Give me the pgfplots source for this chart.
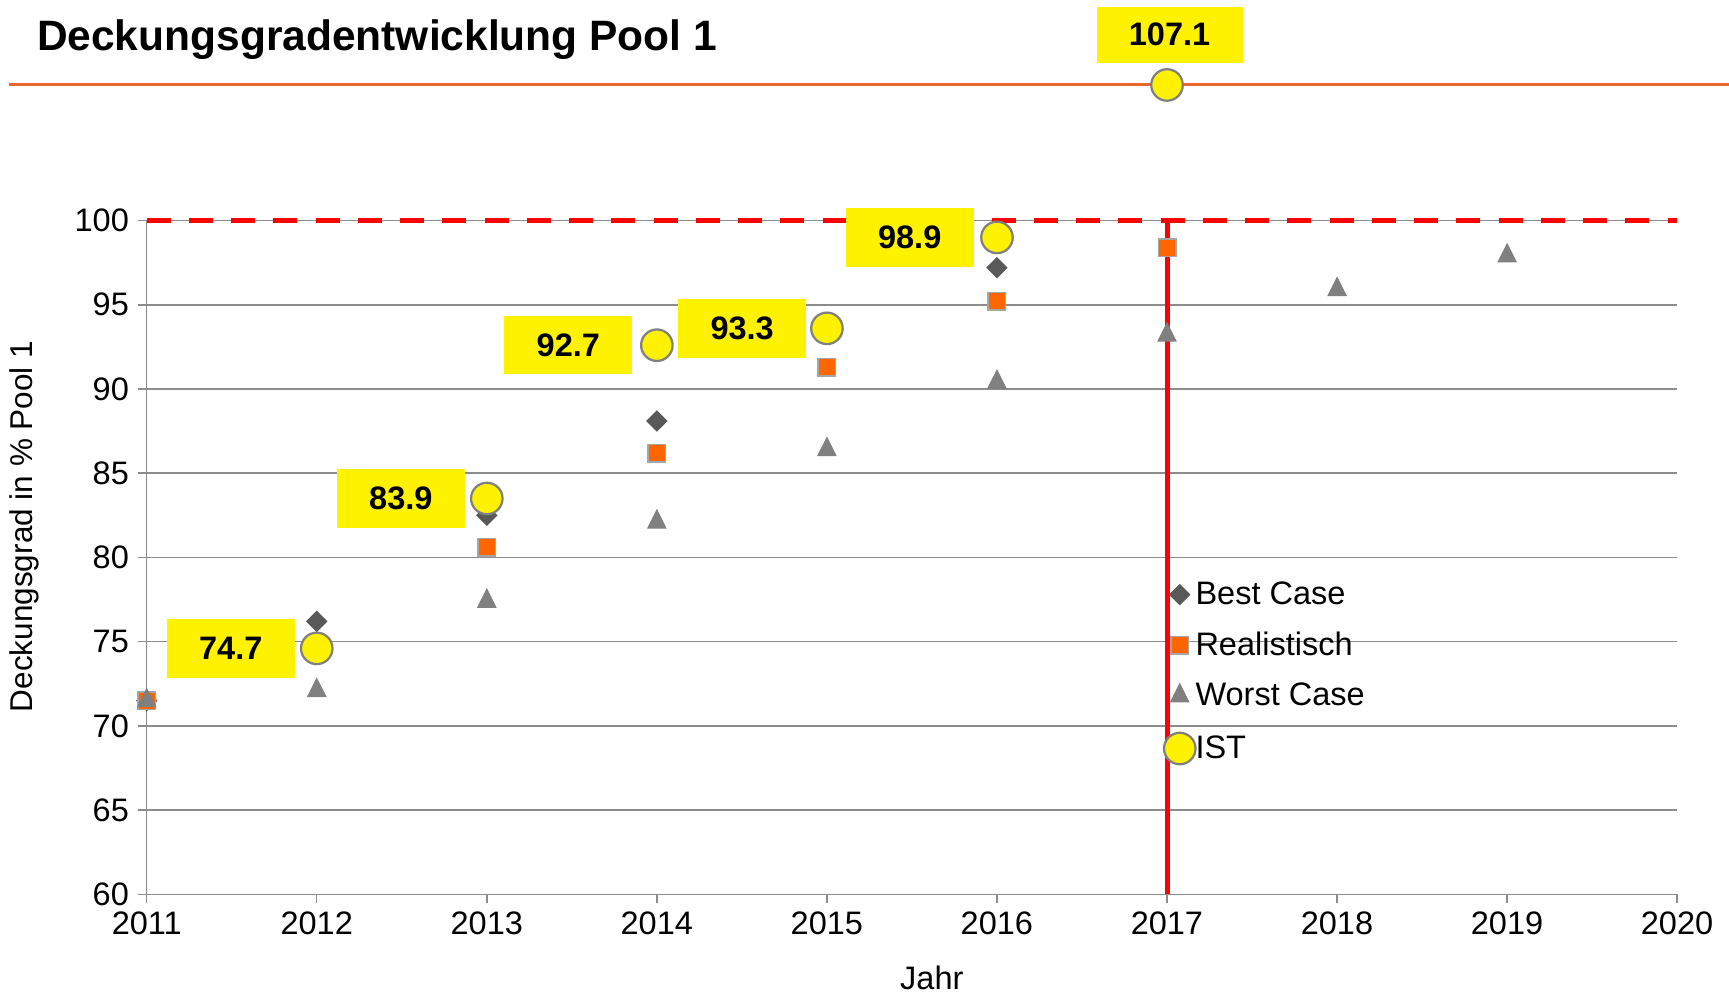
\documentclass[border=0pt]{standalone}
\usepackage{pgfplots}
\pgfplotsset{compat=1.18}
\usepackage{fontspec}
\setmainfont{Liberation Sans}
\definecolor{gridgray}{HTML}{8C8C8C}
\definecolor{headorange}{RGB}{235,105,40}
\definecolor{bestc}{HTML}{595959}
\definecolor{realc}{HTML}{FF6600}
\definecolor{realb}{HTML}{A6A6A6}
\definecolor{worstc}{HTML}{808080}
\definecolor{istb}{HTML}{808080}
\begin{document}
\begin{tikzpicture}
\path[use as bounding box] (0,0) rectangle (691.6pt,397.2pt);
\draw[headorange, line width=1.2pt] (3.5pt,363.2pt) -- (691.6pt,363.2pt);
\node[anchor=base west, font=\fontsize{17}{19}\selectfont\bfseries, inner sep=0pt] at (14.6pt,376.9pt) {Deckungsgradentwicklung Pool 1};
\begin{axis}[
  at={(58.68pt,39.48pt)}, anchor=south west,
  scale only axis, width=612.2pt, height=269.5pt,
  xmin=2011, xmax=2020, ymin=60, ymax=100,
  xtick={2011,2012,...,2020}, ytick={60,65,...,100},
  axis lines=left, axis line style={-, gridgray, line width=0.6pt},
  ymajorgrids, grid style={gridgray, line width=0.6pt},
  tick style={gridgray, line width=0.6pt}, tick align=outside, major tick length=3.6pt,
  clip=false,
  /pgf/number format/assume math mode=true,
  /pgf/number format/1000 sep={},
  ticklabel style={font=\fontsize{13}{15}\selectfont},
  xlabel={Jahr}, ylabel={Deckungsgrad in \% Pool 1},
  every axis x label/.style={at={(axis description cs:0.513,-0.124)}, anchor=center, font=\fontsize{13}{15}\selectfont},
  every axis y label/.style={at={(axis description cs:-0.08,0.546)}, rotate=90, anchor=center, font=\fontsize{12.6}{15}\selectfont},
  legend style={at={(0.6647,0.4645)}, anchor=north west, draw=none, fill=none,
    inner sep=0pt, outer sep=0pt, font=\fontsize{13}{15}\selectfont, row sep=9.5pt,
    nodes={inner sep=0pt}},
  legend cell align=left,
  legend image code/.code={\draw[#1] plot[only marks] coordinates {(0pt,0pt)};},
]
\addplot[only marks, mark=square*, mark size=2.83pt, mark options={rotate=45, fill=bestc, draw=bestc}]
  coordinates {(2011,71.5)(2012,76.2)(2013,82.5)(2014,88.1)(2015,93.6)(2016,97.2)};
\addlegendentry{Best Case}
\addplot[only marks, mark=square*, mark size=3.5pt, mark options={fill=realc, draw=realb, line width=0.6pt}]
  coordinates {(2011,71.5)(2012,74.6)(2013,80.6)(2014,86.2)(2015,91.3)(2016,95.2)(2017,98.4)};
\addlegendentry{Realistisch}
\addplot[only marks, mark=triangle*, mark size=4.2pt, mark options={fill=worstc, draw=worstc, yscale=1.15}]
  coordinates {(2011,71.5)(2012,72.1)(2013,77.4)(2014,82.1)(2015,86.4)(2016,90.4)(2017,93.2)(2018,95.9)(2019,97.9)};
\addlegendentry{Worst Case}
\addplot[only marks, mark=*, mark size=6.3pt, mark options={fill=yellow, draw=istb, line width=0.9pt}]
  coordinates {(2012,74.6)(2013,83.5)(2014,92.6)(2015,93.6)(2016,99.0)(2017,108.05)};
\addlegendentry{IST}
\addplot[forget plot, red, line width=2.1pt, dash pattern=on 9.6pt off 7.3pt] coordinates {(2011,100)(2020,100)};
\addplot[forget plot, red, line width=2pt] coordinates {(2017,100)(2017,60)};
\tikzset{lbl/.style={fill=yellow, minimum width=51.2pt, minimum height=23.4pt, inner sep=0pt, font=\fontsize{13}{15}\selectfont\bfseries}}
\node[lbl, xshift=-34.4pt] at (axis cs:2012,74.6) {74.7};
\node[lbl, xshift=-34.4pt] at (axis cs:2013,83.5) {83.9};
\node[lbl, xshift=-35.4pt] at (axis cs:2014,92.6) {92.7};
\node[lbl, xshift=-33.9pt] at (axis cs:2015,93.6) {93.3};
\node[lbl, xshift=-34.9pt] at (axis cs:2016,99.0) {98.9};
\node[lbl, minimum width=58.4pt, minimum height=22.5pt, yshift=20.1pt, xshift=1pt] at (axis cs:2017,108.05) {107.1};
\end{axis}
\end{tikzpicture}
\end{document}
